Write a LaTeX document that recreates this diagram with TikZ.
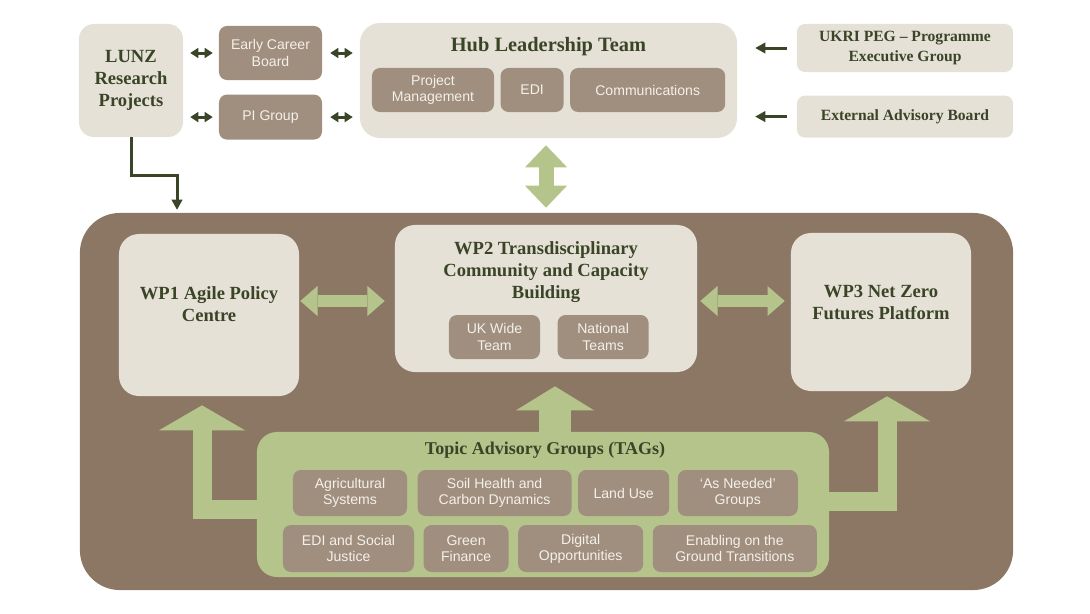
\documentclass[tikz,border=0pt]{standalone}
\usepackage{fontspec}
\setmainfont{Liberation Serif}
\setsansfont{Liberation Sans}
\usepackage{xcolor}
\usepackage{tikz}
\usetikzlibrary{positioning,arrows.meta}

\definecolor{beige}{HTML}{E6E1D7}
\definecolor{taupe}{HTML}{A08F7E}
\definecolor{bark}{HTML}{8C7764}
\definecolor{sage}{HTML}{B4C48B}
\definecolor{olive}{HTML}{3A4527}
\definecolor{chalk}{HTML}{F4F0EA}

\begin{document}
\begin{tikzpicture}[
  x=0.025cm, y=-0.025cm,
  font=\sffamily\fontsize{10}{11.5}\selectfont,
  panel/.style={fill=beige, rounded corners=0.4cm, inner sep=2pt, align=center},
  chip/.style={fill=taupe, rounded corners=0.2cm, inner sep=2pt, align=center, text=chalk},
  head/.style={font=\rmfamily\bfseries\fontsize{13.2}{15.6}\selectfont, text=olive, align=center},
  headsm/.style={font=\rmfamily\bfseries\fontsize{11.1}{14.7}\selectfont, text=olive, align=center},
  darr/.style={olive, line width=0.075cm, >={Triangle[width=0.26cm,length=0.2cm,line width=0pt]}, <->},
  larr/.style={olive, line width=0.075cm, >={Triangle[width=0.28cm,length=0.25cm,line width=0pt]}, ->},
  hdbl/.style={sage, line width=0.28cm, >={Triangle[width=0.75cm,length=0.43cm,line width=0pt]}, <->},
  vdbl/.style={sage, line width=0.375cm, >={Triangle[width=1.05cm,length=0.55cm,line width=0pt]}, <->},
  gup/.style={sage, line width=0.475cm, >={Triangle[width=2.15cm,length=0.625cm,line width=0pt]}, ->},
  gmid/.style={sage, line width=0.8cm, >={Triangle[width=1.95cm,length=0.6cm,line width=0pt]}, ->}
]
\useasboundingbox (0,0) rectangle (1090,613);

% work package area
\node[fill=bark, rounded corners=1cm, minimum width=23.325cm, minimum height=9.425cm, inner sep=0pt] (wpbox) at (546.5,401.5) {};

\node[panel, minimum width=4.5cm, minimum height=4.05cm, rounded corners=0.5cm] (wp1) at (209,315) {};
\node[head] (wp1t) at (209,304) {WP1 Agile Policy\\Centre};
\node[panel, minimum width=7.55cm, minimum height=3.675cm, rounded corners=0.5cm] (wp2) at (546,298.5) {};
\node[head] (wp2t) at (546,272) {WP2 Transdisciplinary\\Community and Capacity\\Building};
\node[chip, minimum width=2.275cm, minimum height=1.1cm] (ukw) at (494.5,337) {UK Wide\\Team};
\node[chip, minimum width=2.275cm, minimum height=1.1cm, right=0.425cm of ukw] (nat) {National\\Teams};
\node[panel, minimum width=4.5cm, minimum height=3.95cm, rounded corners=0.5cm] (wp3) at (881,312) {};
\node[head] (wp3t) at (881,302) {WP3 Net Zero\\Futures Platform};

\coordinate (hrow) at (0,301);
\draw[hdbl, shorten <=0.025cm, shorten >=0.25cm] (wp1.east |- hrow) -- (wp2.west |- hrow);
\draw[hdbl, shorten <=0.075cm, shorten >=0.15cm] (wp2.east |- hrow) -- (wp3.west |- hrow);

% topic advisory groups
\node[fill=sage, rounded corners=0.5cm, minimum width=14.3cm, minimum height=3.625cm, inner sep=0pt] (tag) at (543,504.5) {};
\node[head, font=\rmfamily\bfseries\fontsize{12.8}{15}\selectfont] (tagt) at (545,450) {Topic Advisory Groups (TAGs)};
\node[chip, minimum width=2.85cm, minimum height=1.15cm] (t1) at (350,493) {Agricultural\\Systems};
\node[chip, minimum width=3.85cm, minimum height=1.15cm, right=0.25cm of t1] (t2) {Soil Health and\\Carbon Dynamics};
\node[chip, minimum width=2.275cm, minimum height=1.15cm, right=0.15cm of t2] (t3) {Land Use};
\node[chip, minimum width=3cm, minimum height=1.15cm, right=0.2cm of t3] (t4) {`As Needed'\\Groups};
\node[chip, minimum width=3.275cm, minimum height=1.175cm] (t5) at (348.5,548.5) {EDI and Social\\Justice};
\node[chip, minimum width=2.125cm, minimum height=1.175cm, right=0.225cm of t5] (t6) {Green\\Finance};
\node[chip, minimum width=3.125cm, minimum height=1.175cm, right=0.225cm of t6] (t7) {Digital\\Opportunities};
\node[chip, minimum width=4.1cm, minimum height=1.175cm, right=0.225cm of t7] (t8) {Enabling on the\\Ground Transitions};

\coordinate (lbend) at (202,509);
\coordinate (rbend) at (887,501);
\coordinate (mid) at (555,0);
\draw[gup, shorten >=0.225cm] (tag.west |- lbend) -- (lbend) -- (lbend |- wp1.south);
\draw[gup, shorten >=0.125cm] (tag.east |- rbend) -- (rbend) -- (rbend |- wp3.south);
\draw[gmid, shorten >=0.35cm] (tag.north -| mid) -- (wp2.south -| mid);

% top row
\node[panel, head, minimum width=2.6cm, minimum height=2.825cm, rounded corners=0.375cm] (lunz) at (131,80.5) {LUNZ\\Research\\Projects};
\node[chip, minimum width=2.575cm, minimum height=1.35cm] (ecb) at (270.5,53) {Early Career\\Board};
\node[chip, minimum width=2.575cm, minimum height=1.125cm, below=0.35cm of ecb] (pig) {PI Group};
\node[panel, minimum width=9.425cm, minimum height=2.875cm, rounded corners=0.5cm] (hub) at (548.5,80.5) {};
\node[head, font=\rmfamily\bfseries\fontsize{14.5}{17}\selectfont] (hubt) at (548.5,47) {Hub Leadership Team};
\node[chip, minimum width=3.05cm, minimum height=1.1cm] (pm) at (433,90) {Project\\Management};
\node[chip, minimum width=1.575cm, minimum height=1.1cm, right=0.15cm of pm] (edi) {EDI};
\node[chip, minimum width=3.875cm, minimum height=1.1cm, right=0.15cm of edi] (comms) {Communications};
\node[panel, headsm, minimum width=5.4cm, minimum height=1.2cm, rounded corners=0.2cm] (ukri) at (905,48) {UKRI PEG -- Programme\\Executive Group};
\node[panel, headsm, minimum width=5.4cm, minimum height=1.05cm, rounded corners=0.2cm, below=0.575cm of ukri] (eab) {External Advisory Board};

\draw[darr, shorten <=0.175cm, shorten >=0.15cm] (lunz.east |- ecb) -- (ecb.west);
\draw[darr, shorten <=0.175cm, shorten >=0.15cm] (lunz.east |- pig) -- (pig.west);
\draw[darr, shorten <=0.2cm, shorten >=0.175cm] (ecb.east) -- (hub.west |- ecb);
\draw[darr, shorten <=0.2cm, shorten >=0.175cm] (pig.east) -- (hub.west |- pig);
\draw[larr, shorten <=0.25cm, shorten >=0.45cm] (ukri.west) -- (hub.east |- ukri);
\draw[larr, shorten <=0.25cm, shorten >=0.45cm] (eab.west) -- (hub.east |- eab);

\coordinate (lstep) at (177,175);
\draw[larr, shorten >=0.075cm] (lunz.south) |- (lstep) -- (lstep |- wpbox.north);
\draw[vdbl, shorten <=0.175cm, shorten >=0.425cm] (hub.south -| wp2.north) -- (wp2.north);
\end{tikzpicture}
\end{document}
